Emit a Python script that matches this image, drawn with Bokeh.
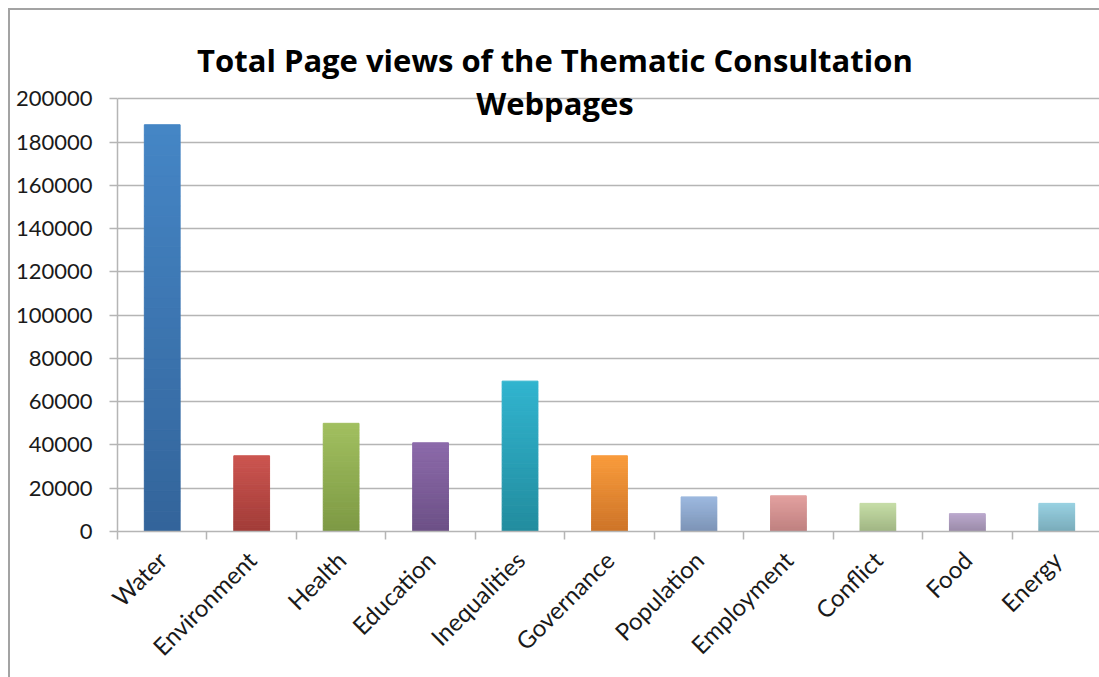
import numpy as np
from bokeh.plotting import figure
from bokeh.models import Range1d, FixedTicker, BasicTickFormatter, Label
from bokeh.embed import file_html
from bokeh.resources import INLINE

categories = ["Water", "Environment", "Health", "Education", "Inequalities",
              "Governance", "Population", "Employment", "Conflict", "Food", "Energy"]
page_views = [188000, 35000, 50000, 41000, 69500, 35000, 16000, 16500, 13000, 8200, 13000]
y_ticks = [0, 20000, 40000, 60000, 80000, 100000, 120000, 140000, 160000, 180000, 200000]
title_lines = ["Total Page views of the Thematic Consultation", "Webpages"]
top_colors = ["#4586C6", "#CC5550", "#A1BF5F", "#8C6AAA", "#31B4CF", "#F99B3C",
              "#9CB8DF", "#E2A09F", "#C5DDA6", "#BAA8CC", "#98D0E1"]
bottom_colors = ["#33649A", "#A13C38", "#7D9944", "#6C5086", "#228C9E", "#CD7428",
                 "#7C93B5", "#BE807F", "#A0B483", "#998AA7", "#79ABB9"]

FONT = "Lato"
GRID = "#b5b5b5"

# layout (pixels on the canvas)
TOP, LEFT, BOTTOM = 20, 107, 148
CANVAS_H = 667
FRAME_H = CANVAS_H - TOP - BOTTOM
AXIS_PX = 431                              # pixels from 0 to top tick
y_view_max = y_ticks[-1] * FRAME_H / AXIS_PX


def mix(c1, c2, t):
    a = [int(c1[i:i + 2], 16) for i in (1, 3, 5)]
    b = [int(c2[i:i + 2], 16) for i in (1, 3, 5)]
    return "#%02x%02x%02x" % tuple(round(a[j] + (b[j] - a[j]) * t) for j in range(3))


p = figure(width=1091, height=669, output_backend="svg", toolbar_location=None,
           x_range=Range1d(0, len(categories)), y_range=Range1d(0, y_view_max),
           min_border_left=LEFT, min_border_right=0, min_border_top=TOP,
           min_border_bottom=BOTTOM)
p.styles = {"margin-left": "8px", "margin-top": "8px",
            "border-top": "2px solid #a3a3a3", "border-left": "2px solid #a3a3a3",
            "box-sizing": "border-box"}
p.outline_line_color = None
p.background_fill_color = "white"
p.border_fill_color = "white"

# bars with vertical gradient (stacked thin slices)
N = 40
xs, bots, tops, cols = [], [], [], []
for i, (v, ct, cb) in enumerate(zip(page_views, top_colors, bottom_colors)):
    for k in range(N):
        xs.append(i + 0.5)
        bots.append(v * k / N)
        tops.append(v * (k + 1) / N)
        cols.append(mix(cb, ct, (k + 0.5) / N))
p.vbar(x=xs, bottom=bots, top=tops, width=0.4, fill_color=cols, line_color=cols, line_width=1)

# x axis: labels at centres, ticks at boundaries
xa = p.xaxis[0]
xa.ticker = FixedTicker(ticks=[i + 0.5 for i in range(len(categories))],
                        minor_ticks=list(range(len(categories) + 1)))
xa.major_label_overrides = {i + 0.5: c for i, c in enumerate(categories)}
xa.major_label_orientation = np.pi / 4
xa.major_tick_in = 0
xa.major_tick_out = 0
xa.minor_tick_in = 0
xa.minor_tick_out = 8
xa.minor_tick_line_color = GRID
xa.minor_tick_line_width = 1.5
xa.axis_line_color = GRID
xa.axis_line_width = 1.5
xa.major_label_text_font = FONT
xa.major_label_text_font_size = "24px"
xa.major_label_text_color = "#1a1a1a"
xa.major_label_standoff = 16

ya = p.yaxis[0]
ya.ticker = FixedTicker(ticks=y_ticks, minor_ticks=[])
ya.bounds = (y_ticks[0], y_ticks[-1])
ya.formatter = BasicTickFormatter(use_scientific=False)
ya.major_tick_in = 0
ya.major_tick_out = 8
ya.major_tick_line_color = GRID
ya.major_tick_line_width = 1.5
ya.axis_line_color = GRID
ya.axis_line_width = 1.5
ya.major_label_text_font = FONT
ya.major_label_text_font_size = "22px"
ya.major_label_text_color = "#1a1a1a"
ya.major_label_standoff = 17

p.xgrid.grid_line_color = None
p.ygrid.ticker = FixedTicker(ticks=y_ticks)
p.ygrid.grid_line_color = GRID
p.ygrid.grid_line_width = 1.5

# title (two centred lines overlapping the top of the plot area)
px_per_unit = AXIS_PX / y_ticks[-1]
for j, line in enumerate(title_lines):
    p.add_layout(Label(x=4.89, y=y_ticks[-1] + (39 - 43 * j) / px_per_unit, text=line,
                       text_align="center", text_baseline="alphabetic",
                       text_font="Open Sans", text_font_style="bold", text_font_size="31px",
                       text_color="black"))

open("out.html", "w").write(file_html(p, INLINE))
